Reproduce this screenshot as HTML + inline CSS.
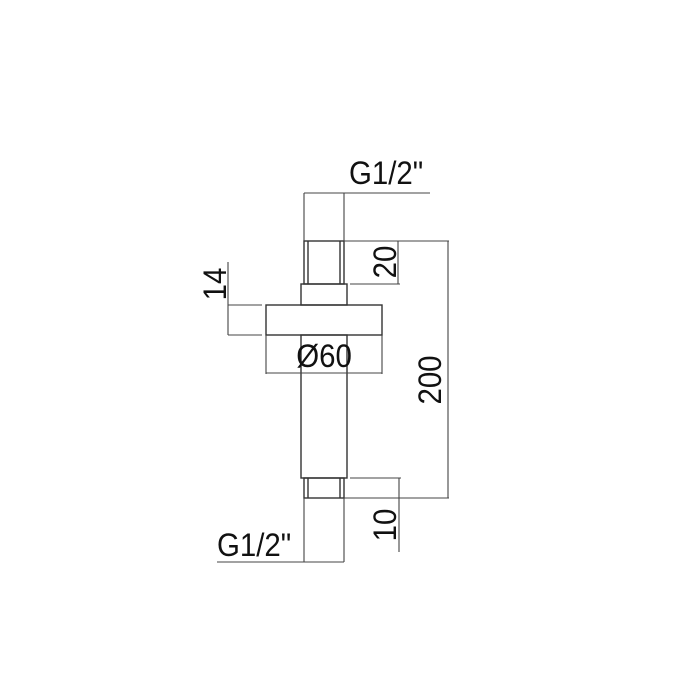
<!DOCTYPE html>
<html><head><style>
html,body{margin:0;padding:0;background:#fff;}
svg{display:block;}
text{font-family:"Liberation Sans Narrow","Liberation Sans",sans-serif;fill:#111;font-size:32px;}
</style></head><body>
<svg width="700" height="700" viewBox="0 0 700 700" xmlns="http://www.w3.org/2000/svg">
<g fill="none" stroke="#333" stroke-width="1.4">
<rect x="304" y="241" width="40" height="43"/>
<line x1="308" y1="241" x2="308" y2="284"/>
<line x1="340" y1="241" x2="340" y2="284"/>
<rect x="301" y="284" width="46" height="21"/>
<rect x="266" y="305" width="116" height="30"/>
<rect x="301" y="335" width="46" height="143"/>
<rect x="304" y="478" width="40" height="20"/>
<line x1="308" y1="478" x2="308" y2="498"/>
<line x1="340" y1="478" x2="340" y2="498"/>
</g>
<g fill="none" stroke="#444" stroke-width="1.1">
<line x1="304" y1="193" x2="430" y2="193"/>
<line x1="304" y1="193" x2="304" y2="241"/>
<line x1="344" y1="193" x2="344" y2="241"/>
<line x1="344" y1="241" x2="449" y2="241"/>
<line x1="448" y1="241" x2="448" y2="498"/>
<line x1="344" y1="498" x2="449" y2="498"/>
<line x1="350" y1="284" x2="400" y2="284"/>
<line x1="398" y1="241" x2="398" y2="284"/>
<line x1="228" y1="262" x2="228" y2="335"/>
<line x1="228" y1="305" x2="262" y2="305"/>
<line x1="228" y1="335" x2="262" y2="335"/>
<line x1="266" y1="335" x2="266" y2="374"/>
<line x1="382" y1="335" x2="382" y2="374"/>
<line x1="266" y1="373" x2="382" y2="373"/>
<line x1="350" y1="478" x2="401" y2="478"/>
<line x1="399" y1="478" x2="399" y2="552"/>
<line x1="217" y1="562" x2="344" y2="562"/>
<line x1="304" y1="498" x2="304" y2="562"/>
<line x1="344" y1="498" x2="344" y2="562"/>
</g>
<text transform="translate(349,184) scale(0.92,1)">G1/2"</text>
<text transform="translate(217,556) scale(0.92,1)">G1/2"</text>
<text transform="translate(324,367) scale(0.92,1)" text-anchor="middle">Ø60</text>
<text transform="translate(396,262) rotate(-90) scale(0.92,1)" text-anchor="middle">20</text>
<text transform="translate(226,284) rotate(-90) scale(0.92,1)" text-anchor="middle">14</text>
<text transform="translate(441,380) rotate(-90) scale(0.92,1)" text-anchor="middle">200</text>
<text transform="translate(396,525) rotate(-90) scale(0.92,1)" text-anchor="middle">10</text>
</svg>
</body></html>
